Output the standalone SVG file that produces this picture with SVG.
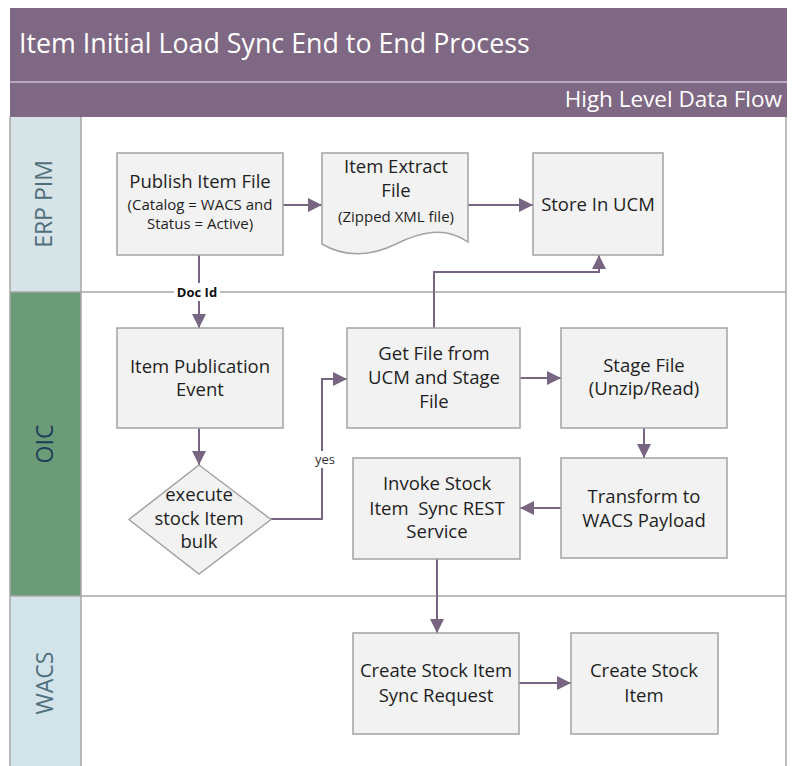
<svg xmlns="http://www.w3.org/2000/svg" width="792" height="766" viewBox="0 0 792 766">
<style>
  .box{fill:#f2f2f2;stroke:#a3a3a3;stroke-width:1.5}
  .lane{stroke:#a6a6a6;stroke-width:1.5;fill:none}
  .t{font-family:"Open Sans","Liberation Sans",sans-serif;fill:#1e1e1e;text-anchor:middle;font-size:18.5px}
  .s{font-size:15px}
  .c{fill:none;stroke:#786581;stroke-width:2}
  .lbl{font-family:"Open Sans","Liberation Sans",sans-serif;font-size:23px;text-anchor:middle}
</style>
<defs>
  <marker id="ah" markerUnits="userSpaceOnUse" markerWidth="14" markerHeight="14" viewBox="0 0 12 12" refX="12" refY="6" orient="auto">
    <path d="M0,0 L12,6 L0,12 z" fill="#786581"/>
  </marker>
</defs>
<rect width="792" height="766" fill="#ffffff"/>
<g id="header">
  <rect x="10" y="8" width="777" height="109" fill="#7f6883"/>
  <line x1="10" y1="82" x2="787" y2="82" stroke="#cbbdd0" stroke-width="1.5"/>
  <text x="19" y="53" font-family="Open Sans, Liberation Sans, sans-serif" font-size="26.8" fill="#ffffff">Item Initial Load Sync End to End Process</text>
  <text x="782" y="106.5" font-family="Open Sans, Liberation Sans, sans-serif" font-size="22.5" fill="#ffffff" text-anchor="end">High Level Data Flow</text>
</g>
<g id="lanes">
  <rect x="10" y="117" width="71" height="175" fill="#d6e4e7"/>
  <rect x="10" y="292" width="71" height="304" fill="#6b9c78"/>
  <rect x="10" y="596" width="71" height="170" fill="#d2e4ea"/>
  <line class="lane" x1="10" y1="117" x2="10" y2="766"/>
  <line class="lane" x1="81" y1="117" x2="81" y2="766"/>
  <line class="lane" x1="786" y1="117" x2="786" y2="766"/>
  <line class="lane" x1="10" y1="292" x2="786" y2="292"/>
  <line class="lane" x1="10" y1="596" x2="786" y2="596"/>
  <text class="lbl" transform="translate(52,204) rotate(-90)" fill="#4f6f7c">ERP PIM</text>
  <text class="lbl" transform="translate(53,444) rotate(-90)" fill="#1d3d58">OIC</text>
  <text class="lbl" transform="translate(53,683) rotate(-90)" fill="#4f6f7c">WACS</text>
</g>
<g id="connectors">
  <path class="c" d="M283,205 H322" marker-end="url(#ah)"/>
  <path class="c" d="M468,205 H533" marker-end="url(#ah)"/>
  <path class="c" d="M199,255 V328" marker-end="url(#ah)"/>
  <path class="c" d="M199,428 V465" marker-end="url(#ah)"/>
  <path class="c" d="M271,519 H322 V379 H347" marker-end="url(#ah)"/>
  <path class="c" d="M434,328 V272 H599 V255" marker-end="url(#ah)"/>
  <path class="c" d="M520,378 H561" marker-end="url(#ah)"/>
  <path class="c" d="M644,428 V458" marker-end="url(#ah)"/>
  <path class="c" d="M561,508 H520" marker-end="url(#ah)"/>
  <path class="c" d="M437,559 V633" marker-end="url(#ah)"/>
  <path class="c" d="M519,683 H571" marker-end="url(#ah)"/>
  <rect x="174" y="283" width="46" height="18" fill="#ffffff"/>
  <text x="197" y="297" font-family="Open Sans, Liberation Sans, sans-serif" font-size="13" font-weight="bold" fill="#111" text-anchor="middle">Doc Id</text>
  <rect x="313" y="451" width="24" height="17" fill="#ffffff"/>
  <text x="325" y="464" font-family="Open Sans, Liberation Sans, sans-serif" font-size="13" fill="#333" text-anchor="middle">yes</text>
</g>
<g id="publish">
  <rect class="box" x="117" y="153" width="166" height="102"/>
  <text class="t" x="200" y="188">Publish Item File</text>
  <text class="t s" x="200" y="210">(Catalog = WACS and</text>
  <text class="t s" x="200" y="229">Status = Active)</text>
</g>
<g id="extract">
  <path class="box" d="M322,153 H468 V242 C445,226 420,232 396,244 C372,256 345,258 322,244 Z"/>
  <text class="t" x="396" y="173">Item Extract</text>
  <text class="t" x="396" y="197">File</text>
  <text class="t s" x="396" y="222" font-size="14.5px">(Zipped XML file)</text>
</g>
<g id="store">
  <rect class="box" x="533" y="153" width="130" height="102"/>
  <text class="t" x="598" y="211">Store In UCM</text>
</g>
<g id="publication">
  <rect class="box" x="117" y="328" width="166" height="100"/>
  <text class="t" x="200" y="373">Item Publication</text>
  <text class="t" x="200" y="396">Event</text>
</g>
<g id="decision">
  <path class="box" d="M199,465 L271,519.5 L199,574 L129,519.5 Z"/>
  <text class="t" x="199" y="501">execute</text>
  <text class="t" x="199" y="525">stock Item</text>
  <text class="t" x="199" y="548">bulk</text>
</g>
<g id="getfile">
  <rect class="box" x="347" y="328" width="173" height="100"/>
  <text class="t" x="434" y="360">Get File from</text>
  <text class="t" x="434" y="384">UCM and Stage</text>
  <text class="t" x="434" y="408">File</text>
</g>
<g id="stage">
  <rect class="box" x="561" y="328" width="166" height="100"/>
  <text class="t" x="644" y="372">Stage File</text>
  <text class="t" x="644" y="395">(Unzip/Read)</text>
</g>
<g id="transform">
  <rect class="box" x="561" y="458" width="166" height="100"/>
  <text class="t" x="644" y="503">Transform to</text>
  <text class="t" x="644" y="527">WACS Payload</text>
</g>
<g id="invoke">
  <rect class="box" x="353" y="458" width="167" height="101"/>
  <text class="t" x="437" y="490">Invoke Stock</text>
  <text class="t" x="437" y="515" xml:space="preserve">Item  Sync REST</text>
  <text class="t" x="437" y="538">Service</text>
</g>
<g id="createsync">
  <rect class="box" x="353" y="633" width="166" height="101"/>
  <text class="t" x="436" y="677">Create Stock Item</text>
  <text class="t" x="436" y="702">Sync Request</text>
</g>
<g id="createstock">
  <rect class="box" x="571" y="633" width="147" height="101"/>
  <text class="t" x="644" y="677">Create Stock</text>
  <text class="t" x="644" y="702">Item</text>
</g>
</svg>
